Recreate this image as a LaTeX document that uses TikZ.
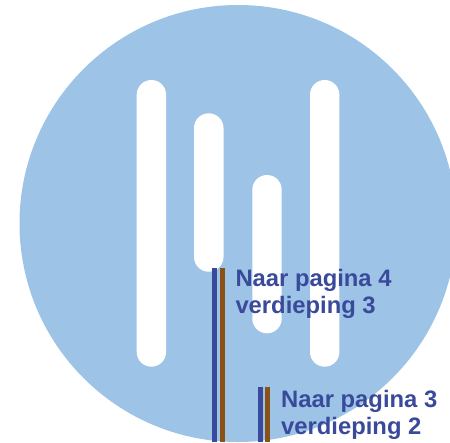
\documentclass[tikz,border=0pt]{standalone}
\usepackage{fontspec}
\setmainfont{Liberation Sans}
\definecolor{bgblue}{HTML}{9DC3E6}
\definecolor{txtblue}{HTML}{3A4A9A}
\definecolor{linebrown}{HTML}{8B5218}
\begin{document}
\begin{tikzpicture}[x=1pt,y=-1pt,
  pill/.style={fill=white,rounded corners=14.7pt},
  bluewire/.style={draw=txtblue,line width=5pt},
  brownwire/.style={draw=linebrown,line width=5pt},
  lbl/.style={anchor=base west,inner sep=0pt,align=left,text=txtblue,font=\fontsize{23.8}{26.5}\selectfont\bfseries}]
\useasboundingbox (0,0) rectangle (450,442);
\begin{scope}
\clip (0,0) rectangle (450,442);
\fill[bgblue] (238,223.5) circle (218.5);
\end{scope}
% white bars
\fill[pill] (136.7,80) rectangle (166.1,366.7);
\fill[pill] (194,113.3) rectangle (223.5,271.7);
\fill[pill] (252.3,175) rectangle (281.7,333.3);
\fill[pill] (310,80) rectangle (339.4,366.7);
% wires
\coordinate (b1t) at (214.5,268.3);
\coordinate (b1b) at (214.5,442);
\coordinate (r1t) at (222.3,268.3);
\coordinate (r1b) at (222.3,442);
\coordinate (b2t) at (260,386.7);
\coordinate (b2b) at (260,442);
\coordinate (r2t) at (267.5,386.7);
\coordinate (r2b) at (267.5,442);
\draw[bluewire] (b1t) -- (b1b);
\draw[brownwire] (r1t) -- (r1b);
\draw[bluewire] (b2t) -- (b2b);
\draw[brownwire] (r2t) -- (r2b);
% labels (anchor at baseline of last line)
\node[lbl] (l1) at (235.3,313.2) {Naar pagina 4\\verdieping 3};
\node[lbl] (l2) at (281,434) {Naar pagina 3\\verdieping 2};
\end{tikzpicture}
\end{document}
